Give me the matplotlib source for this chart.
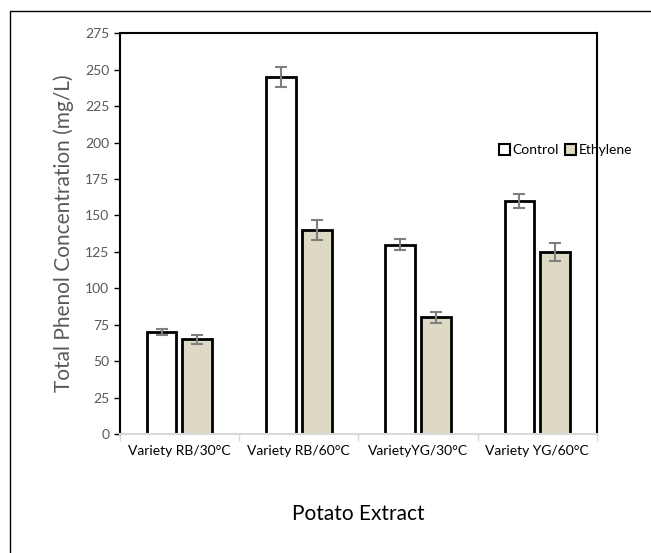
import numpy as np
import matplotlib
matplotlib.use('Agg')
import matplotlib.pyplot as plt
from matplotlib.patches import Rectangle, Patch

plt.rcParams['font.family'] = ['Lato', 'DejaVu Sans']

# data
categories = ['Variety RB/30°C', 'Variety RB/60°C', 'VarietyYG/30°C', 'Variety YG/60°C']
control = [70, 245, 130, 160]
control_err = [2, 7, 4, 5]
ethylene = [65, 140, 80, 125]
ethylene_err = [3, 7, 4, 6]

fig = plt.figure(figsize=(6.51, 5.53), dpi=100)
ax = fig.add_axes([0.184, 0.215, 0.733, 0.725])

x = np.arange(len(categories))
w = 0.25
tan = '#ddd9c4'
err_kw = dict(ecolor='#7f7f7f', elinewidth=1.5, capsize=4, capthick=1.5)

ax.bar(x - 0.15, control, w, yerr=control_err, color='white', edgecolor='black',
       linewidth=2, error_kw=err_kw, zorder=2, label='Control')
ax.bar(x + 0.15, ethylene, w, yerr=ethylene_err, color=tan, edgecolor='black',
       linewidth=2, error_kw=err_kw, zorder=2, label='Ethylene')

ax.set_xlim(-0.5, 3.5)
ax.set_ylim(0, 275)
ax.set_yticks(np.arange(0, 276, 25))
ax.tick_params(axis='y', colors='black', labelcolor='#595959', labelsize=10,
               direction='out', length=4, width=1)
ax.set_xticks(x)
ax.set_xticklabels(categories, fontsize=10)
ax.tick_params(axis='x', length=0, pad=8)
ax.set_xticks(np.arange(-0.5, 3.6, 1), minor=True)
ax.tick_params(axis='x', which='minor', length=5, color='#d9d9d9', width=1)

for s in ['left', 'top', 'right']:
    ax.spines[s].set_color('black')
    ax.spines[s].set_linewidth(1.5)
ax.spines['bottom'].set_color('#d9d9d9')
ax.spines['bottom'].set_linewidth(1.5)
ax.spines['bottom'].set_zorder(3)

ax.set_ylabel('Total Phenol Concentration (mg/L)', fontsize=15, color='#595959', labelpad=8)
ax.set_xlabel('Potato Extract', fontsize=15, color='black', labelpad=34)

handles = [Patch(facecolor='white', edgecolor='black', linewidth=1.5, label='Control'),
           Patch(facecolor=tan, edgecolor='black', linewidth=1.5, label='Ethylene')]
ax.legend(handles=handles, loc='center left', bbox_to_anchor=(0.78, 0.708), ncol=2,
          frameon=False, fontsize=10, handlelength=0.8, handleheight=0.8,
          handletextpad=0.2, columnspacing=0.4, borderpad=0)

# outer chart-area border (only left and top visible)
fig.add_artist(Rectangle((10 / 651, -0.1), 1.2, 1 - 11 / 553 + 0.1, fill=False,
                         edgecolor='black', linewidth=1, transform=fig.transFigure,
                         clip_on=False))

fig.savefig('out.png', dpi=100)
